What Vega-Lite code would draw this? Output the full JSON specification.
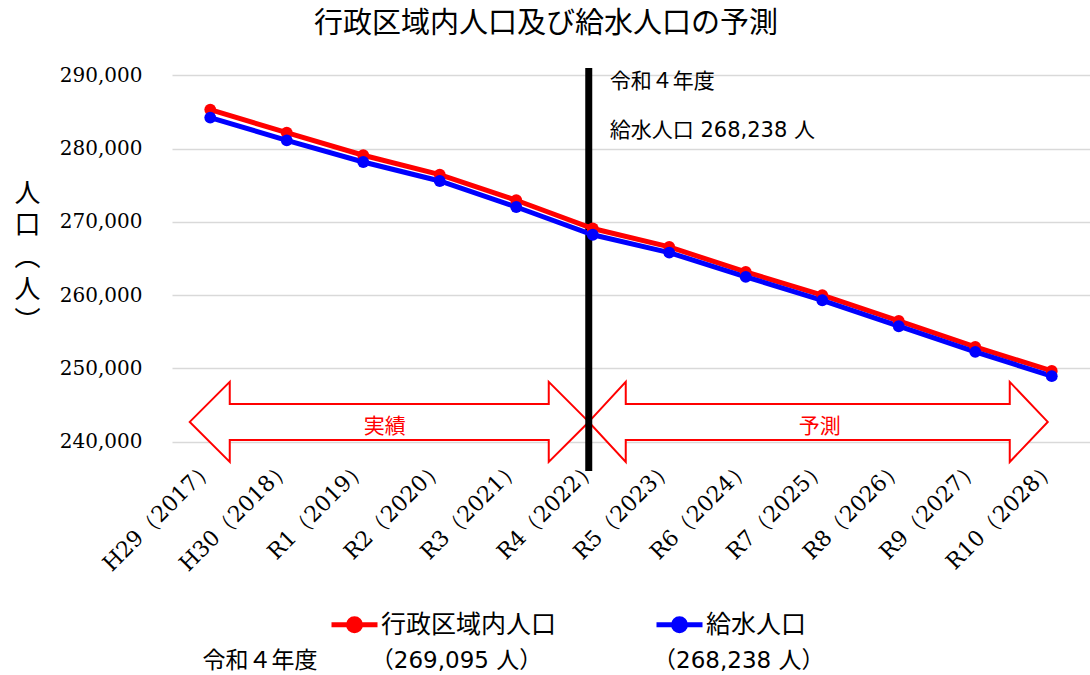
{
  "$schema": "https://vega.github.io/schema/vega-lite/v6.json",
  "width": 918,
  "height": 403,
  "autosize": "none",
  "padding": {"left": 172, "top": 68, "right": 0, "bottom": 204},
  "background": "white",
  "config": {"view": {"stroke": null}},
  "title": {
    "text": "行政区域内人口及び給水人口の予測",
    "font": "Noto Sans CJK JP",
    "fontSize": 29,
    "fontWeight": "normal",
    "color": "#000000",
    "anchor": "middle",
    "baseline": "middle",
    "dx": -85,
    "offset": 12
  },
  "datasets": {
    "pop": [
      {"year": "H29（2017）", "series": "行政区域内人口", "value": 285320},
      {"year": "H30（2018）", "series": "行政区域内人口", "value": 282180},
      {"year": "R1（2019）", "series": "行政区域内人口", "value": 279090},
      {"year": "R2（2020）", "series": "行政区域内人口", "value": 276450},
      {"year": "R3（2021）", "series": "行政区域内人口", "value": 272950},
      {"year": "R4（2022）", "series": "行政区域内人口", "value": 269095},
      {"year": "R5（2023）", "series": "行政区域内人口", "value": 266580},
      {"year": "R6（2024）", "series": "行政区域内人口", "value": 263170},
      {"year": "R7（2025）", "series": "行政区域内人口", "value": 259990},
      {"year": "R8（2026）", "series": "行政区域内人口", "value": 256480},
      {"year": "R9（2027）", "series": "行政区域内人口", "value": 252940},
      {"year": "R10（2028）", "series": "行政区域内人口", "value": 249660},
      {"year": "H29（2017）", "series": "給水人口", "value": 284230},
      {"year": "H30（2018）", "series": "給水人口", "value": 281130},
      {"year": "R1（2019）", "series": "給水人口", "value": 278170},
      {"year": "R2（2020）", "series": "給水人口", "value": 275580},
      {"year": "R3（2021）", "series": "給水人口", "value": 272030},
      {"year": "R4（2022）", "series": "給水人口", "value": 268238},
      {"year": "R5（2023）", "series": "給水人口", "value": 265810},
      {"year": "R6（2024）", "series": "給水人口", "value": 262490},
      {"year": "R7（2025）", "series": "給水人口", "value": 259300},
      {"year": "R8（2026）", "series": "給水人口", "value": 255760},
      {"year": "R9（2027）", "series": "給水人口", "value": 252260},
      {"year": "R10（2028）", "series": "給水人口", "value": 248940}
    ],
    "phases": [
      {"phase": "実績"},
      {"phase": "予測"}
    ],
    "marker": [
      {"year": "R4（2022）", "note": ["令和４年度", "給水人口 268,238 人"]}
    ]
  },
  "layer": [
    {
      "data": {"name": "pop"},
      "mark": {"type": "line", "strokeWidth": 5, "opacity": 0},
      "encoding": {
        "x": {
          "field": "year",
          "type": "ordinal",
          "scale": {
            "type": "point",
            "padding": 0.5,
            "domain": ["H29（2017）", "H30（2018）", "R1（2019）", "R2（2020）", "R3（2021）", "R4（2022）", "R5（2023）", "R6（2024）", "R7（2025）", "R8（2026）", "R9（2027）", "R10（2028）"]
          },
          "axis": {
            "labelAngle": -45,
            "labelAlign": "right",
            "labelBaseline": "middle",
            "labelFont": "DejaVu Serif",
            "labelFontSize": 22,
            "labelColor": "#000000",
            "labelPadding": -8,
            "labelOverlap": false,
            "labelBound": false,
            "labelFlush": false,
            "labelLimit": 300,
            "ticks": false,
            "domain": false,
            "grid": false,
            "title": "令和４年度　　 （269,095 人）　　　　　   （268,238 人）",
            "titleFont": "DejaVu Sans, Noto Sans CJK JP",
            "titleFontSize": 23,
            "titleFontWeight": "normal",
            "titleColor": "#000000",
            "titleAnchor": "start",
            "titleAlign": "left",
            "titleBaseline": "middle",
            "titleX": 30,
            "titleY": 189
          }
        },
        "y": {
          "field": "value",
          "type": "quantitative",
          "scale": {"domain": [236000, 291000], "zero": false, "nice": false},
          "axis": {
            "values": [240000, 250000, 260000, 270000, 280000, 290000],
            "labelExpr": "format(datum.value, ',')",
            "labelFont": "DejaVu Serif",
            "labelFontSize": 20,
            "labelColor": "#000000",
            "labelPadding": 30,
            "ticks": false,
            "domain": false,
            "grid": true,
            "gridColor": "#d9d9d9",
            "gridWidth": 1.5,
            "title": ["人", "口", "︵", "人", "︶"],
            "titleFont": "Noto Sans CJK JP",
            "titleFontSize": 26,
            "titleFontWeight": "normal",
            "titleColor": "#000000",
            "titleLineHeight": 32,
            "titleAngle": 0,
            "titleAlign": "center",
            "titleBaseline": "middle",
            "titleX": -145,
            "titleY": 125
          }
        },
        "detail": {"field": "series"}
      }
    },
    {
      "data": {"name": "phases"},
      "mark": {"type": "point", "filled": true, "fill": "white", "stroke": "#ff0000", "strokeWidth": 2, "opacity": 1, "size": 4, "xOffset": -4},
      "encoding": {
        "x": {"datum": "R4（2022）", "type": "ordinal"},
        "y": {"datum": 242700, "type": "quantitative"},
        "shape": {
          "field": "phase",
          "type": "nominal",
          "legend": null,
          "scale": {
            "domain": ["実績", "予測"],
            "range": [
              "M0,0L-40,-40L-40,-18L-359,-18L-359,-40L-399,0L-359,40L-359,18L-40,18L-40,40Z",
              "M0,0L37,-40L37,-18L421,-18L421,-40L459,0L421,40L421,18L37,18L37,40Z"
            ]
          }
        }
      }
    },
    {
      "data": {"name": "phases"},
      "transform": [{"filter": "datum.phase === '実績'"}],
      "mark": {"type": "text", "font": "Noto Sans CJK JP", "fontSize": 21, "color": "#ff0000", "align": "center", "baseline": "middle", "dx": -208, "dy": 5},
      "encoding": {
        "x": {"datum": "R4（2022）", "type": "ordinal"},
        "y": {"datum": 242700, "type": "quantitative"},
        "text": {"field": "phase"}
      }
    },
    {
      "data": {"name": "phases"},
      "transform": [{"filter": "datum.phase === '予測'"}],
      "mark": {"type": "text", "font": "Noto Sans CJK JP", "fontSize": 21, "color": "#ff0000", "align": "center", "baseline": "middle", "dx": 227, "dy": 5},
      "encoding": {
        "x": {"datum": "R4（2022）", "type": "ordinal"},
        "y": {"datum": 242700, "type": "quantitative"},
        "text": {"field": "phase"}
      }
    },
    {
      "data": {"name": "marker"},
      "mark": {"type": "rule", "color": "#000000", "strokeWidth": 7, "xOffset": -4},
      "encoding": {
        "x": {"field": "year", "type": "ordinal"}
      }
    },
    {
      "data": {"name": "marker"},
      "mark": {"type": "text", "font": "DejaVu Sans, Noto Sans CJK JP", "fontSize": 21, "color": "#000000", "align": "left", "baseline": "top", "lineHeight": 49, "dx": 17, "dy": 3},
      "encoding": {
        "x": {"field": "year", "type": "ordinal"},
        "y": {"datum": 291000, "type": "quantitative"},
        "text": {"field": "note"}
      }
    },
    {
      "data": {"name": "pop"},
      "mark": {"type": "line", "strokeWidth": 5, "point": {"filled": true, "size": 140}},
      "encoding": {
        "x": {"field": "year", "type": "ordinal"},
        "y": {"field": "value", "type": "quantitative"},
        "color": {
          "field": "series",
          "type": "nominal",
          "scale": {"domain": ["行政区域内人口", "給水人口"], "range": ["#ff0000", "#0000ff"]},
          "legend": {
            "title": null,
            "orient": "none",
            "direction": "horizontal",
            "legendX": 157,
            "legendY": 531,
            "labelFont": "Noto Sans CJK JP",
            "labelFontSize": 25,
            "labelColor": "#000000",
            "labelOffset": 1,
            "labelLimit": 400,
            "columnPadding": 89,
            "symbolType": "M-1,0H1M0.26,0A0.26,0.26,0,1,1,-0.26,0A0.26,0.26,0,1,1,0.26,0Z",
            "symbolSize": 2116,
            "symbolStrokeWidth": 5,
            "encode": {
              "symbols": {
                "update": {
                  "fill": {"scale": "color", "field": "value"},
                  "stroke": {"scale": "color", "field": "value"},
                  "strokeWidth": {"value": 5},
                  "opacity": {"value": 1}
                }
              }
            }
          }
        }
      }
    }
  ]
}
